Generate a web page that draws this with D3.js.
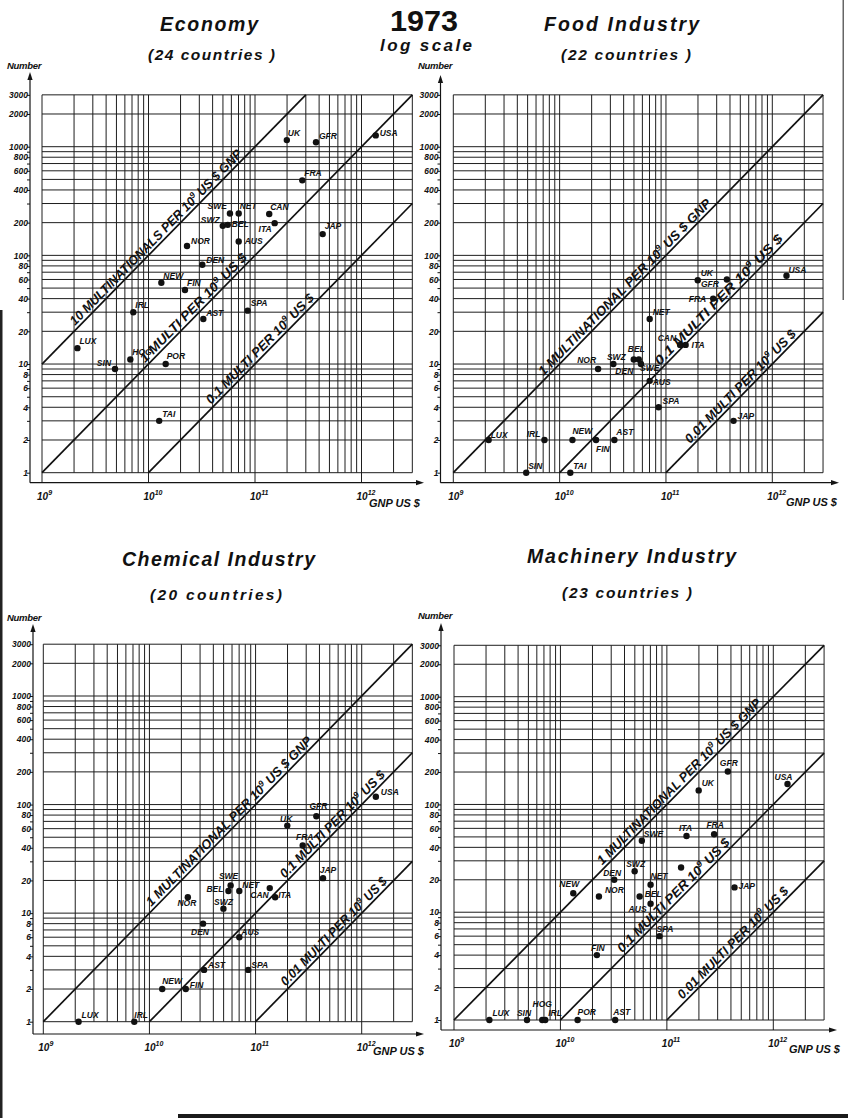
<!DOCTYPE html>
<html>
<head>
<meta charset="utf-8">
<script src="https://cdn.jsdelivr.net/npm/d3@7"></script>
<style>
  body { margin: 0; background: #fff; }
  svg { display: block; }
  text { font-family: "Liberation Sans", Arial, sans-serif; font-weight: bold; font-style: italic; fill: #111; }
</style>
</head>
<body>
<svg id="chart" width="848" height="1118"></svg>
<script>
// countries and their 1973 GNP (US $), shared by all four panels
const countries = ['LUX','SIN','HOG','IRL','TAI','NEW','POR','FIN','NOR','DEN','AST','SWZ','BEL','SWE','NET','AUS','SPA','CAN','ITA','UK','FRA','GFR','JAP','USA'];
const gnp = [2.15e9,4.85e9,6.75e9,7.2e9,1.26e10,1.32e10,1.45e10,2.2e10,2.3e10,3.2e10,3.27e10,4.98e10,5.55e10,5.82e10,7.03e10,7.03e10,8.53e10,1.36e11,1.53e11,1.99e11,2.78e11,3.74e11,4.32e11,1.36e12];

// number of multinationals per country (null = not in panel)
const economy   = [14,9,11,30,3,56,10,48,122,82,26,187,191,243,243,134,31,240,198,1150,490,1100,157,1270];
const food      = [2,1,null,2,1,2,null,2,9,10,2,11,11,10,26,7,4,15,15,59,40,60,3,65];
const chemical  = [1,null,null,1,null,2,null,2,14,8,3,11,16,18,16,6,3,17,14,64,42,78,21,118];
const machinery = [1,1,1,1,null,15,1,4,14,20,1,24,14,46,18,12,6,26,51,135,53,202,17,155];

const yTickLabels = [1,2,4,6,8,10,20,40,60,80,100,200,400,600,800,1000,2000,3000];
const xTickLabels = [1e9,1e10,1e11,1e12];
const gnpMax = 3e12, numMax = 3000;

// reference lines: multinationals per 10^9 US $ GNP, with where the caption sits
const econRates = [
  {rate:10,  pre:'10 MULTINATIONALS  PER 10', post:' US $  GNP', from:2.14e9, to:8.05e10},
  {rate:1,   pre:'1 MULTI  PER 10',           post:' US $',      from:9.7e9,  to:8.97e10},
  {rate:0.1, pre:'0.1 MULTI  PER 10',         post:' US $',      from:4.04e10,to:3.82e11}
];
const foodRates = [
  {rate:1,    pre:'1 MULTINATIONAL  PER 10', post:' US $  GNP', from:7.4e9,  to:2.84e11},
  {rate:0.1,  pre:'0.1 MULTI  PER 10',       post:' US $',      from:9.18e10,to:1.34e12},
  {rate:0.01, pre:'0.01 MULTI  PER 10',      post:' US $',      from:1.76e11,to:1.78e12}
];
const chemRates = [
  {rate:1,    pre:'1 MULTINATIONAL  PER 10', post:' US $  GNP', from:1.09e10,to:3.63e11},
  {rate:0.1,  pre:'0.1 MULTI  PER 10',       post:' US $',      from:1.98e11,to:1.77e12},
  {rate:0.01, pre:'0.01 MULTI  PER 10',      post:' US $',      from:2.02e11,to:1.85e12}
];
const machRates = [
  {rate:1,    pre:'1 MULTINATIONAL  PER 10', post:' US $  GNP', from:2.59e10,to:8.2e11},
  {rate:0.1,  pre:'0.1 MULTI  PER 10',       post:' US $',      from:3.98e10,to:4.17e11},
  {rate:0.01, pre:'0.01 MULTI  PER 10',      post:' US $',      from:1.47e11,to:1.48e12}
];

// label offsets [dx, dy, anchor]; default is up-right of the dot
const econLabels = {UK:[1,-4],GFR:[3,-3],USA:[4,1],SWE:[-3,-4,'end'],SWZ:[-3,-3,'end'],BEL:[4,2],ITA:[-3,9,'end'],
  JAP:[2,-5],NOR:[4,-2],AUS:[6,2],DEN:[4,-2],SPA:[3,-5],SIN:[-4,-3,'end'],HOG:[2,-5],POR:[1,-5],AST:[3,-3],TAI:[3,-4],NET:[1,-4],CAN:[1,-4]};
const foodLabels = {UK:[3,-4],GFR:[-8,8,'end'],USA:[2,-3],FRA:[-7,3,'end'],NET:[3,-4],CAN:[-4,-4,'end'],ITA:[6,3],
  BEL:[-11,-8],SWZ:[-8,0,'end'],SWE:[-1,7],NOR:[-2,-6,'end'],DEN:[2,10],AUS:[3,4],SPA:[4,-3],JAP:[4,-2],LUX:[2,-2],
  IRL:[-4,-3,'end'],NEW:[0,-6],FIN:[0,12],AST:[2,-5],SIN:[2,-4],TAI:[3,-4]};
const chemLabels = {USA:[5,-2],GFR:[2,-7,'middle'],UK:[5,-4,'end'],FRA:[2,-5,'middle'],JAP:[5,-5,'middle'],SWE:[-2,-6,'middle'],
  NET:[3,-3],BEL:[-5,1,'end'],CAN:[-1,10,'end'],ITA:[3,1],NOR:[-1,9,'middle'],SWZ:[0,-4,'middle'],DEN:[-3,11,'middle'],
  AUS:[2,-2],AST:[4,-2],SPA:[3,-2],NEW:[0,-5],FIN:[4,-1],LUX:[3,-4],IRL:[0,-4]};
const machLabels = {GFR:[1,-6,'middle'],USA:[-4,-4,'middle'],UK:[3,-4],ITA:[-1,-5,'middle'],FRA:[1,-6,'middle'],SWE:[2,-4],
  SWZ:[1,-4,'middle'],DEN:[-2,-4,'middle'],NET:[0,-6],NEW:[-4,-6,'middle'],NOR:[6,-3],BEL:[5,1],AUS:[-4,8,'end'],JAP:[4,2],
  SPA:[-3,-4],FIN:[1,-4,'middle'],LUX:[3,-4],SIN:[-3,-4,'middle'],HOG:[0,-13,'middle'],IRL:[3,-4],POR:[0,-5],AST:[-2,-5],CAN:null};

const panels = [
  {title:'Economy', sub:'(24 countries )', values:economy, rates:econRates, labels:econLabels,
   x9:42, x12:361.5, y1:472.7, y1000:146.7, axisX:30, axisY:482.7, arrowTop:72, arrowRight:424,
   titlePos:[209,31,98], subPos:[211.5,60,127], numberPos:[7,69], gnpPos:[369,507]},
  {title:'Food Industry', sub:'(22 countries )', values:food, rates:foodRates, labels:foodLabels,
   x9:453.3, x12:772.3, y1:472.7, y1000:146.7, axisX:440.5, axisY:482.7, arrowTop:75, arrowRight:839,
   titlePos:[621.5,31,155], subPos:[626,60,130], numberPos:[418,69], gnpPos:[786,506]},
  {title:'Chemical Industry', sub:'(20 countries)', values:chemical, rates:chemRates, labels:chemLabels,
   x9:43.3, x12:361.7, y1:1021.7, y1000:696, axisX:33, axisY:1034, arrowTop:624, arrowRight:424,
   titlePos:[218.5,565.5,193], subPos:[216,600,132], numberPos:[7,621], gnpPos:[373,1055]},
  {title:'Machinery Industry', sub:'(23 countries )', values:machinery, rates:machRates, labels:machLabels,
   x9:454, x12:773.3, y1:1020, y1000:696.7, axisX:441, axisY:1030, arrowTop:623, arrowRight:837,
   titlePos:[631.5,563,209], subPos:[627,598,130], numberPos:[418,619], gnpPos:[789,1053]}
];

const svg = d3.select('#chart');
const ink = '#141414';

// scan edges of the original sheet
svg.append('rect').attr('x',0).attr('y',310).attr('width',2.5).attr('height',808).attr('fill','#222');
svg.append('rect').attr('x',178).attr('y',1114).attr('width',670).attr('height',4).attr('fill','#1a1a1a');
svg.append('rect').attr('x',842.5).attr('y',0).attr('width',1.5).attr('height',300).attr('fill','#666');

// centre heading
svg.append('text').attr('x',424).attr('y',31).attr('text-anchor','middle')
  .style('font-style','normal').style('font-size','29px')
  .attr('textLength',68).attr('lengthAdjust','spacingAndGlyphs').text('1973');
svg.append('text').attr('x',426).attr('y',51).attr('text-anchor','middle')
  .style('font-size','17px').attr('textLength',92).attr('lengthAdjust','spacing').text('log scale');

panels.forEach(drawPanel);

function drawPanel(p){
  const g = svg.append('g');
  const x = d3.scaleLog().domain([1e9,1e12]).range([p.x9,p.x12]);
  const y = d3.scaleLog().domain([1,1000]).range([p.y1,p.y1000]);
  const xGrid = d3.scaleLog().domain([1e9,gnpMax]).ticks();
  const yGrid = d3.scaleLog().domain([1,numMax]).ticks();
  const isDecade = v => Math.abs(Math.log10(v) - Math.round(Math.log10(v))) < 1e-9;

  // titles
  g.append('text').attr('x',p.titlePos[0]).attr('y',p.titlePos[1]).attr('text-anchor','middle')
    .style('font-size','19.5px').attr('textLength',p.titlePos[2]).attr('lengthAdjust','spacing').text(p.title);
  g.append('text').attr('x',p.subPos[0]).attr('y',p.subPos[1]).attr('text-anchor','middle')
    .style('font-size','15.5px').attr('textLength',p.subPos[2]).attr('lengthAdjust','spacing').text(p.sub);

  // log grid
  const grid = g.append('g').attr('stroke','#1e1e1e').attr('stroke-width',1);
  grid.selectAll('line.v').data(xGrid).join('line').attr('class','v')
    .attr('x1',d=>x(d)).attr('x2',d=>x(d))
    .attr('y1',d=>isDecade(d) ? p.axisY : y(1)).attr('y2',y(numMax));
  grid.selectAll('line.h').data(yGrid).join('line').attr('class','h')
    .attr('x1',x(1e9)).attr('x2',x(gnpMax)).attr('y1',d=>y(d)).attr('y2',d=>y(d));

  // y axis with arrow
  const yAxis = d3.axisLeft(y).tickValues(yGrid).tickSize(3).tickPadding(-1)
    .tickFormat(d => yTickLabels.includes(d) ? d : '');
  const ya = g.append('g').attr('transform',`translate(${p.axisX},0)`).call(yAxis);
  ya.select('.domain').remove();
  ya.selectAll('line').attr('stroke',ink);
  ya.selectAll('text').style('font-size','8.5px').attr('fill',ink).style('font-family','"Liberation Sans",Arial,sans-serif');
  g.append('line').attr('x1',p.axisX).attr('x2',p.axisX).attr('y1',p.axisY).attr('y2',p.arrowTop+6)
    .attr('stroke',ink).attr('stroke-width',1.2);
  g.append('path').attr('d',`M${p.axisX},${p.arrowTop} l-2.6,8 h5.2 z`).attr('fill',ink);
  g.append('text').attr('x',p.numberPos[0]).attr('y',p.numberPos[1]).style('font-size','9.5px')
    .style('letter-spacing','-0.3px').text('Number');

  // x axis with arrow
  g.append('line').attr('x1',p.axisX).attr('x2',p.arrowRight-6).attr('y1',p.axisY).attr('y2',p.axisY)
    .attr('stroke',ink).attr('stroke-width',1.2);
  g.append('path').attr('d',`M${p.arrowRight},${p.axisY} l-8,-2.6 v5.2 z`).attr('fill',ink);
  const xl = g.selectAll('text.xt').data(xTickLabels).join('text').attr('class','xt')
    .attr('x',d=>x(d)-5).attr('y',p.axisY+17).style('font-size','10px');
  xl.append('tspan').text('10');
  xl.append('tspan').attr('dy',-5).style('font-size','7px').text(d=>Math.round(Math.log10(d)));
  g.append('text').attr('x',p.gnpPos[0]).attr('y',p.gnpPos[1]).style('font-size','11px').text('GNP US $');

  // reference diagonals
  p.rates.forEach(r => {
    const g0 = r.rate >= 1 ? 1e9 : 1e9 / r.rate;
    const g1 = r.rate >= 1 ? numMax * 1e9 / r.rate : gnpMax;
    g.append('line').attr('x1',x(g0)).attr('y1',y(r.rate*g0/1e9)).attr('x2',x(g1)).attr('y2',y(r.rate*g1/1e9))
      .attr('stroke','#111').attr('stroke-width',1.7);
    const ax = x(r.from), ay = y(r.rate*r.from/1e9), bx = x(r.to), by = y(r.rate*r.to/1e9);
    const len = Math.hypot(bx-ax, by-ay);
    const ang = Math.atan2(by-ay, bx-ax) * 180 / Math.PI;
    const t = g.append('text').attr('transform',`translate(${ax},${ay}) rotate(${ang})`).attr('y',-3)
      .style('font-size','13px').attr('textLength',len).attr('lengthAdjust','spacingAndGlyphs');
    t.append('tspan').text(r.pre);
    t.append('tspan').attr('dy',-5).style('font-size','8.5px').text('9');
    t.append('tspan').attr('dy',5).text(r.post);
  });

  // countries
  const pts = countries.map((c,i) => ({c, gnp:gnp[i], n:p.values[i]})).filter(d => d.n != null);
  g.selectAll('circle').data(pts).join('circle')
    .attr('cx',d=>x(d.gnp)).attr('cy',d=>y(d.n)).attr('r',3.2).attr('fill','#111');
  const lab = pts.filter(d => p.labels[d.c] !== null);
  g.selectAll('text.lab').data(lab).join('text').attr('class','lab')
    .attr('x',d=>x(d.gnp) + (p.labels[d.c] || [2])[0])
    .attr('y',d=>y(d.n) + (p.labels[d.c] || [2,-4])[1])
    .attr('text-anchor',d=>(p.labels[d.c] || [])[2] || 'start')
    .style('font-size','8.5px').text(d=>d.c);
}
</script>
</body>
</html>
